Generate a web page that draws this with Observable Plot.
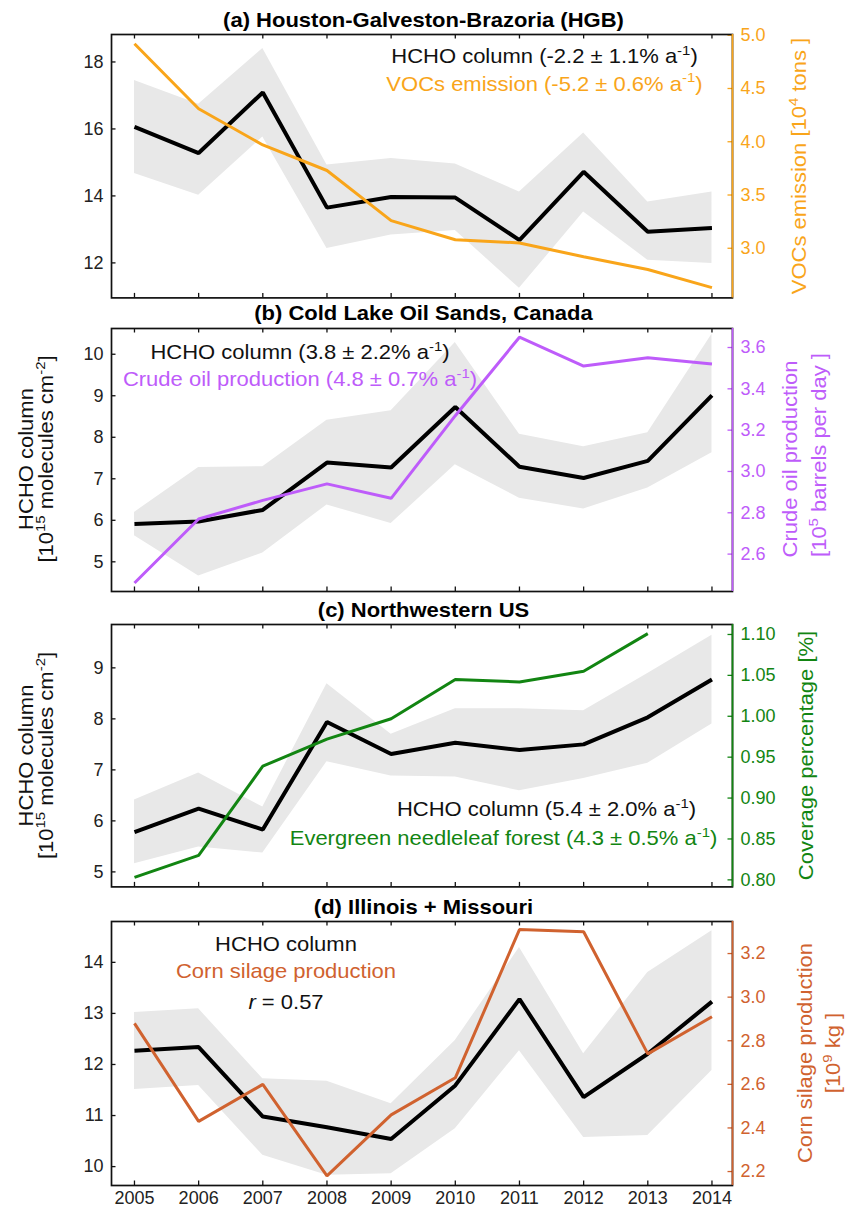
<!DOCTYPE html>
<html>
<head>
<meta charset="utf-8">
<script src="https://cdn.jsdelivr.net/npm/d3@7"></script>
<script src="https://cdn.jsdelivr.net/npm/@observablehq/plot@0.6"></script>
<style>
  html, body { margin: 0; padding: 0; background: #fff; }
  #root { position: relative; width: 847px; height: 1207px; overflow: hidden; font-family: "Liberation Sans", Arial, sans-serif; }
  #root svg { position: absolute; left: 0; overflow: visible; }
</style>
</head>
<body>
<div id="root"></div>
<script>
// ---------- data ----------
const years = [2005, 2006, 2007, 2008, 2009, 2010, 2011, 2012, 2013, 2014];

// (a) Houston-Galveston-Brazoria
const hgbHcho = [16.06, 15.28, 17.09, 13.65, 13.97, 13.95, 12.68, 14.72, 12.93, 13.04];
const hgbLo   = [14.67, 14.02, 15.76, 12.43, 12.83, 12.97, 11.24, 13.52, 12.08, 11.98];
const hgbHi   = [17.45, 16.74, 18.40, 14.92, 15.12, 14.95, 14.12, 15.88, 13.82, 14.12];
const hgbVoc  = [4.92, 4.31, 3.97, 3.73, 3.26, 3.08, 3.05, 2.92, 2.80, 2.63];

// (b) Cold Lake Oil Sands
const clHcho = [5.91, 5.97, 6.25, 7.39, 7.27, 8.73, 7.29, 7.02, 7.43, 9.01];
const clLo   = [5.63, 4.66, 5.21, 6.37, 5.92, 7.34, 6.53, 6.27, 6.78, 7.63];
const clHi   = [6.19, 7.27, 7.29, 8.41, 8.64, 10.28, 8.07, 7.77, 8.11, 10.48];
const clOil  = [2.46, 2.77, 2.86, 2.94, 2.87, 3.27, 3.65, 3.51, 3.55, 3.52];

// (c) Northwestern US
const nwHcho = [5.78, 6.24, 5.83, 7.94, 7.31, 7.53, 7.39, 7.50, 8.03, 8.77];
const nwLo   = [5.16, 5.49, 5.37, 7.16, 6.88, 6.86, 6.59, 6.83, 7.13, 7.90];
const nwHi   = [6.41, 6.94, 6.27, 8.69, 7.70, 8.20, 8.20, 8.16, 8.89, 9.64];
const nwForest = [0.803, 0.830, 0.939, 0.972, 0.997, 1.045, 1.042, 1.055, 1.101, null];

// (d) Illinois + Missouri
const ilHcho = [12.27, 12.34, 10.98, 10.77, 10.54, 11.59, 13.28, 11.36, 12.21, 13.23];
const ilLo   = [11.51, 11.59, 10.22, 9.83, 9.86, 10.74, 12.27, 10.57, 10.61, 11.88];
const ilHi   = [13.02, 13.09, 11.72, 11.67, 11.23, 12.47, 14.29, 12.21, 13.80, 14.62];
const ilCorn = [2.88, 2.43, 2.60, 2.18, 2.46, 2.63, 3.31, 3.30, 2.74, 2.91];

// tick labels
const ticksA = [12, 14, 16, 18];        const rTicksA = [3.0, 3.5, 4.0, 4.5, 5.0];
const ticksB = [5, 6, 7, 8, 9, 10];     const rTicksB = [2.6, 2.8, 3.0, 3.2, 3.4, 3.6];
const ticksC = [5, 6, 7, 8, 9];         const rTicksC = [0.80, 0.85, 0.90, 0.95, 1.00, 1.05, 1.10];
const ticksD = [10, 11, 12, 13, 14];    const rTicksD = [2.2, 2.4, 2.6, 2.8, 3.0, 3.2];

const titles = ["(a) Houston-Galveston-Brazoria (HGB)", "(b) Cold Lake Oil Sands, Canada", "(c) Northwestern US", "(d) Illinois + Missouri"];

const cOrange = "#F9A51A", cPurple = "#BE5CFA", cGreen = "#128512", cBrown = "#D0622F";

// ---------- layout ----------
const W = 847, L = 111, R = 732;
const xdom = [2004.642, 2014.32];
const FONT = '"Liberation Sans", Arial, sans-serif';
const TICKFS = 18;
const root = document.getElementById("root");

function panel(cfg) {
  const {top, bottom, ydom, rdom, lticks, rticks, rfmt, color, hcho, lo, hi, sec, xlabels} = cfg;
  const mt = 12, mb = xlabels ? 32 : 12;
  const fH = bottom - top, fW = R - L;
  const r2l = d3.scaleLinear(rdom, ydom);
  const data = years.map((year, i) => ({year, v: hcho[i], lo: lo[i], hi: hi[i], s: sec[i]}));
  const marks = [
    Plot.areaY(data, {x: "year", y1: "lo", y2: "hi", fill: "#e8e8e8", curve: "linear"}),
    Plot.lineY(data, {x: "year", y: "v", stroke: "black", strokeWidth: 4, strokeLinejoin: "miter", strokeLinecap: "butt"}),
    Plot.lineY(data, {x: "year", y: d => d.s == null ? NaN : r2l(d.s), stroke: color, strokeWidth: 3, strokeLinejoin: "miter", strokeLinecap: "butt"}),
    Plot.ruleX(years, {insetTop: fH - 4.5, stroke: "#111", strokeWidth: 1.3}),
    Plot.ruleX(years, {insetBottom: fH - 4.5, stroke: "#111", strokeWidth: 1.3}),
    Plot.ruleY(lticks, {insetRight: fW - 4.5, stroke: "#111", strokeWidth: 1.3}),
    Plot.ruleY(rticks.map(r2l), {insetLeft: fW - 4.5, stroke: color, strokeWidth: 1.3}),
    Plot.frame({stroke: "#111", strokeWidth: 1.7}),
    Plot.ruleX([xdom[1]], {stroke: color, strokeWidth: 1.7}),
    Plot.axisY(lticks, {anchor: "left", tickSize: 0, tickPadding: 8, fill: "#222", fontSize: TICKFS, label: null, tickFormat: d => String(d)}),
    Plot.axisY(rticks.map(r2l), {anchor: "right", tickSize: 0, tickPadding: 8, fill: color, fontSize: TICKFS, label: null, tickFormat: d => rfmt(r2l.invert(d))})
  ];
  if (xlabels) marks.push(Plot.axisX(years, {anchor: "bottom", tickSize: 0, tickPadding: 6, fill: "#222", fontSize: TICKFS, label: null, tickFormat: d => String(d)}));
  const chart = Plot.plot({
    width: W, height: fH + mt + mb,
    marginTop: mt, marginBottom: mb, marginLeft: L, marginRight: W - R,
    x: {domain: xdom, axis: null, label: null},
    y: {domain: ydom, axis: null, label: null},
    style: {fontFamily: FONT, fontSize: TICKFS + "px", background: "transparent", overflow: "visible"},
    marks
  });
  chart.style.top = (top - mt) + "px";
  root.appendChild(chart);
}

const f1 = v => v.toFixed(1), f2 = v => v.toFixed(2);

panel({top: 34.3, bottom: 297.7, ydom: [10.955, 18.82], rdom: [2.534, 5.007], lticks: ticksA, rticks: rTicksA, rfmt: f1,
  color: cOrange, hcho: hgbHcho, lo: hgbLo, hi: hgbHi, sec: hgbVoc});
panel({top: 327.7, bottom: 590.7, ydom: [4.285, 10.62], rdom: [2.419, 3.692], lticks: ticksB, rticks: rTicksB, rfmt: f1,
  color: cPurple, hcho: clHcho, lo: clLo, hi: clHi, sec: clOil});
panel({top: 624.3, bottom: 886.7, ydom: [4.706, 9.85], rdom: [0.7914, 1.1122], lticks: ticksC, rticks: rTicksC, rfmt: f2,
  color: cGreen, hcho: nwHcho, lo: nwLo, hi: nwHi, sec: nwForest});
panel({top: 921, bottom: 1185, ydom: [9.63, 14.80], rdom: [2.136, 3.347], lticks: ticksD, rticks: rTicksD, rfmt: f1,
  color: cBrown, hcho: ilHcho, lo: ilLo, hi: ilHi, sec: ilCorn, xlabels: true});

// ---------- text overlay ----------
const svg = d3.create("svg").attr("width", W).attr("height", 1207).style("top", "0px")
  .style("font-family", FONT).style("pointer-events", "none");
root.appendChild(svg.node());

const SX = 1.1;
function rich(o, parts) {
  const size = o.size || 20;
  const t = svg.append("text").attr("text-anchor", o.anchor || "middle").attr("font-size", size)
    .attr("fill", o.color || "#111").attr("font-weight", o.weight || "normal")
    .attr("transform", `translate(${o.x},${o.y})${o.rotate ? " rotate(-90)" : ""} scale(${SX},1)`);
  let raised = false;
  const up = size * 0.42;
  for (const p of parts) {
    const isSup = typeof p === "object" && p.sup != null;
    const txt = typeof p === "string" ? p : (p.sup != null ? p.sup : p.it);
    const s = t.append("tspan").text(txt);
    if (isSup) {
      s.attr("font-size", size * 0.68);
      if (!raised) { s.attr("dy", -up); raised = true; }
    } else {
      if (raised) { s.attr("dy", up); raised = false; }
      if (typeof p === "object" && p.it != null) s.attr("font-style", "italic");
    }
  }
  return t;
}

// titles
const frameTops = [34.3, 327.7, 624.3, 921];
titles.forEach((t, i) => rich({x: 423.5, y: frameTops[i] - 7.5, weight: "bold", color: "#000"}, [t]));

// annotations
rich({x: 544.5, y: 63.3}, ["HCHO column (-2.2 ± 1.1% a", {sup: "-1"}, ")"]);
rich({x: 544.5, y: 90.7, color: cOrange}, ["VOCs emission (-5.2 ± 0.6% a", {sup: "-1"}, ")"]);
rich({x: 300, y: 359.3}, ["HCHO column (3.8 ± 2.2% a", {sup: "-1"}, ")"]);
rich({x: 300, y: 386, color: cPurple}, ["Crude oil production (4.8 ± 0.7% a", {sup: "-1"}, ")"]);
rich({x: 546.5, y: 816}, ["HCHO column (5.4 ± 2.0% a", {sup: "-1"}, ")"]);
rich({x: 503.5, y: 845, color: cGreen}, ["Evergreen needleleaf forest (4.3 ± 0.5% a", {sup: "-1"}, ")"]);
rich({x: 286, y: 951}, ["HCHO column"]);
rich({x: 286, y: 978.3, color: cBrown}, ["Corn silage production"]);
rich({x: 286, y: 1009.3}, [{it: "r"}, " = 0.57"]);

// axis labels
rich({x: 806, y: 166, rotate: true, color: cOrange}, ["VOCs emission [10", {sup: "4"}, " tons ]"]);
rich({x: 33, y: 459, rotate: true}, ["HCHO column"]);
rich({x: 53, y: 459, rotate: true}, ["[10", {sup: "15"}, " molecules cm", {sup: "-2"}, "]"]);
rich({x: 797, y: 459, rotate: true, color: cPurple}, ["Crude oil production"]);
rich({x: 826, y: 455, rotate: true, color: cPurple}, ["[10", {sup: "5"}, " barrels per day ]"]);
rich({x: 33, y: 755.5, rotate: true}, ["HCHO column"]);
rich({x: 53, y: 755.5, rotate: true}, ["[10", {sup: "15"}, " molecules cm", {sup: "-2"}, "]"]);
rich({x: 813, y: 755.5, rotate: true, color: cGreen}, ["Coverage percentage [%]"]);
rich({x: 812, y: 1053, rotate: true, color: cBrown}, ["Corn silage production"]);
rich({x: 840, y: 1053, rotate: true, color: cBrown}, ["[10", {sup: "9"}, " kg ]"]);
</script>
</body>
</html>
